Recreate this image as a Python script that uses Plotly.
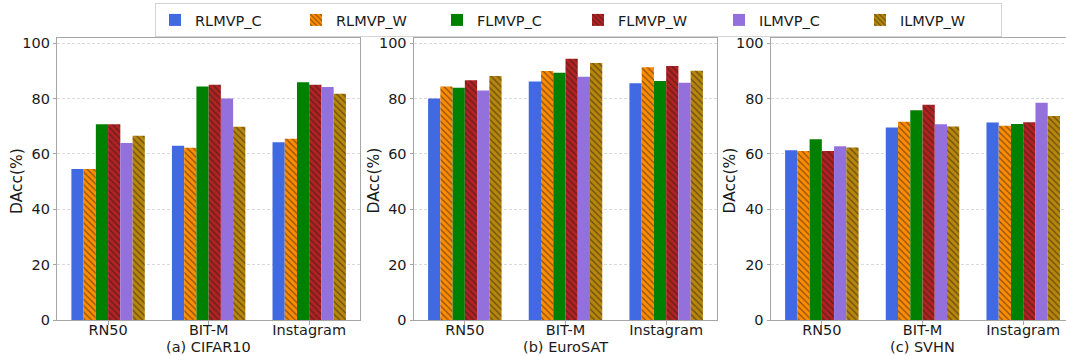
import plotly.graph_objects as go

categories = ["RN50", "BIT-M", "Instagram"]
series_names = ["RLMVP_C", "RLMVP_W", "FLMVP_C", "FLMVP_W", "ILMVP_C", "ILMVP_W"]
colors = ["#4169E1", "#FF8C00", "#008000", "#B22222", "#9370DB", "#B8860B"]
hatched = [False, True, False, True, False, True]
subtitles = ["(a) CIFAR10", "(b) EuroSAT", "(c) SVHN"]
y_ticks = [0, 20, 40, 60, 80, 100]

# values per dataset: rows = series, columns = categories
cifar10 = [
    [54.5, 62.9, 64.2],
    [54.5, 62.2, 65.4],
    [70.7, 84.3, 85.8],
    [70.7, 84.9, 84.9],
    [63.9, 80.0, 84.1],
    [66.5, 69.8, 81.7],
]
eurosat = [
    [80.0, 86.1, 85.5],
    [84.3, 89.9, 91.3],
    [83.9, 89.3, 86.3],
    [86.6, 94.3, 91.7],
    [82.9, 87.8, 85.7],
    [88.1, 92.8, 90.0],
]
svhn = [
    [61.3, 69.5, 71.3],
    [61.0, 71.6, 70.1],
    [65.3, 75.7, 70.8],
    [61.0, 77.7, 71.4],
    [62.7, 70.7, 78.4],
    [62.3, 69.9, 73.7],
]
datasets = [cifar10, eurosat, svhn]

W, H = 1066, 356
FONT = "DejaVu Sans"
TXT = "#1a1a1a"
SPINE = "#a6a6a6"

x_domains = [(57.3 / W, 360 / W), (414 / W, 717 / W), (771 / W, 1.0)]
x_ranges = [[-0.505, 2.505], [-0.505, 2.505], [-0.505, 2.425]]
y_domain = ((H - 320) / H, (H - 37.5) / H)

fig = go.Figure()
for p, data in enumerate(datasets):
    ax = "" if p == 0 else str(p + 1)
    for s, name in enumerate(series_names):
        marker = dict(color=colors[s], line=dict(width=0))
        if hatched[s]:
            marker["pattern"] = dict(shape="\\", fgcolor="#1a1a1a", size=4.5, solidity=0.3)
        fig.add_trace(go.Bar(
            x=categories, y=data[s], name=name, marker=marker,
            offsetgroup=str(s), legendgroup=name, showlegend=(p == 0),
            xaxis="x" + ax, yaxis="y" + ax,
        ))

layout = dict(
    width=W, height=H,
    margin=dict(l=0, r=0, t=0, b=0, pad=0, autoexpand=False),
    paper_bgcolor="white", plot_bgcolor="white",
    barmode="group", bargap=0.27, bargroupgap=0,
    font=dict(family=FONT, size=14.5, color=TXT),
    legend=dict(
        orientation="h", x=155 / W, xanchor="left", y=1 - 3 / H, yanchor="top",
        bordercolor="#d4d4d4", borderwidth=1, bgcolor="white",
        entrywidth=96, entrywidthmode="pixels", itemwidth=30,
        font=dict(family=FONT, size=14.5, color=TXT),
    ),
)
annotations = []
for p in range(3):
    ax = "" if p == 0 else str(p + 1)
    layout["xaxis" + ax] = dict(
        domain=list(x_domains[p]), range=x_ranges[p], anchor="y" + ax,
        showline=True, linecolor=SPINE, linewidth=1, mirror=True,
        ticks="outside", ticklen=3.5, tickcolor=SPINE,
        ticklabelstandoff=-7,
        showgrid=False, zeroline=False, automargin=False,
        tickfont=dict(family=FONT, size=14.5, color=TXT),
    )
    layout["yaxis" + ax] = dict(
        domain=list(y_domain), range=[0, 102], anchor="x" + ax,
        tickvals=y_ticks, ticktext=[str(v) for v in y_ticks],
        showline=True, linecolor=SPINE, linewidth=1, mirror=(p < 2),
        ticks="outside", ticklen=3.5, tickcolor=SPINE,
        showgrid=True, gridcolor="#dadada", griddash="3px,2px", gridwidth=0.8,
        zeroline=False, automargin=False,
        tickfont=dict(family=FONT, size=14.5, color=TXT),
    )
    x0, x1 = x_domains[p]
    annotations.append(dict(
        text=subtitles[p], xref="paper", yref="paper",
        x=(x0 + (x0 + 303 / W)) / 2 if p == 2 else (x0 + x1) / 2,
        y=(H - 347) / H, xanchor="center", yanchor="middle",
        showarrow=False, font=dict(family=FONT, size=14.5, color=TXT),
    ))
    yt_x = [17, 373.5, 729.5][p]
    annotations.append(dict(
        text="DAcc(%)", xref="paper", yref="paper",
        x=yt_x / W, y=(H - 181) / H, xanchor="center", yanchor="middle",
        textangle=-90, showarrow=False,
        font=dict(family=FONT, size=15.5, color=TXT),
    ))
layout["annotations"] = annotations
fig.update_layout(**layout)
fig.write_html(
    "out.html",
    config={"displayModeBar": False},
    post_script="document.body.style.margin='0';document.body.style.padding='0';"
                "document.body.style.overflow='hidden';",
)
